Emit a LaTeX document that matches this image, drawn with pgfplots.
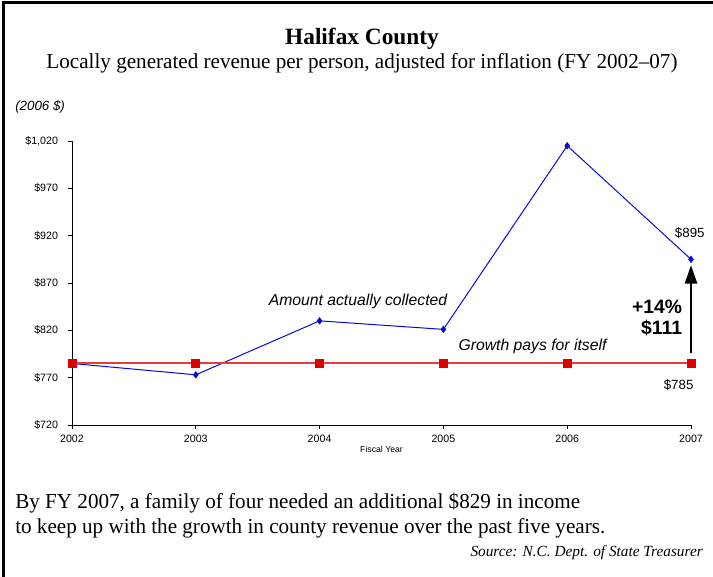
\documentclass[border=0pt]{standalone}
\usepackage{fontspec}
\setmainfont{Liberation Serif}
\setsansfont{Liberation Sans}
\newfontfamily\cond[FakeStretch=0.99,Ligatures=TeX]{Liberation Serif}
\usepackage{pgfplots}
\pgfplotsset{compat=1.18}
\usetikzlibrary{arrows.meta}
\definecolor{bluel}{RGB}{10,10,215}
\definecolor{redl}{RGB}{235,60,60}
\definecolor{redm}{RGB}{220,0,0}
\begin{document}
\begin{tikzpicture}
\useasboundingbox (-54pt,-114pt) rectangle (480.75pt,318.75pt);
\begin{axis}[
  at={(0,0)}, anchor=origin,
  scale only axis,
  width=464.25pt, height=213pt,
  xmin=2002, xmax=2007, ymin=720, ymax=1020,
  axis x line=bottom, axis y line=left,
  axis line style={-, black, line width=0.6pt},
  xtick={2002,2003,2004,2005,2006,2007},
  xticklabels={2002,2003,2004,2005,2006,2007},
  ytick={720,770,820,870,920,970,1020},
  yticklabels={\$720,\$770,\$820,\$870,\$920,\$970,{\$1,020}},
  tick align=outside, major tick length=3pt,
  tick style={black, line width=0.6pt},
  font=\sffamily,
  ticklabel style={font=\sffamily\fontsize{8}{9}\selectfont},
  yticklabel style={xshift=-4pt},
  xticklabel style={yshift=-1pt},
  xlabel={Fiscal Year},
  xlabel style={font=\sffamily\fontsize{6.5}{7}\selectfont, yshift=4pt},
  clip=false,
]
\addplot[draw=bluel, line width=0.75pt, mark=diamond*, mark size=2.2pt,
  mark options={fill=bluel, draw=bluel}]
  coordinates {(2002,785) (2003,773) (2004,830) (2005,821) (2006,1015) (2007,895)};
\addplot[draw=redl, line width=1.5pt, mark=square*, mark size=3pt,
  mark options={fill=redm, draw=redm, line width=0.5pt}]
  coordinates {(2002,785) (2003,785) (2004,785) (2005,785) (2006,785) (2007,785)};
\node[font=\sffamily\itshape\fontsize{11.8}{13}\selectfont] at (axis cs:2004.31,850) {Amount actually collected};
\node[font=\sffamily\itshape\fontsize{11.8}{13}\selectfont] at (axis cs:2005.72,803.4) {Growth pays for itself};
\node[font=\sffamily\fontsize{10}{12}\selectfont] at (axis cs:2006.99,922.8) {\$895};
\node[font=\sffamily\fontsize{10}{12}\selectfont] at (axis cs:2006.9,762) {\$785};
\node[font=\sffamily\bfseries\fontsize{14.5}{16}\selectfont, anchor=east, inner sep=0pt] at (axis cs:2006.93,844.6) {+14\%};
\node[font=\sffamily\bfseries\fontsize{14.5}{16}\selectfont, anchor=east, inner sep=0pt] at (axis cs:2006.93,822.5) {\$111};
\draw[line width=2.2pt, -{Triangle[length=14pt, width=9pt]}] (axis cs:2007,796) -- (axis cs:2007,889);
\end{axis}
% frame
\draw[line width=2.4pt] (-51.6pt,-114pt) -- (-51.6pt,316.8pt) -- (480.75pt,316.8pt);
% titles
\node[font=\bfseries\fontsize{17.5}{19}\selectfont, anchor=base] at (217.5pt,285pt) {Halifax County};
\node[font=\cond\fontsize{16}{18}\selectfont, anchor=base] at (217.5pt,267pt) {Locally generated revenue per person, adjusted for inflation (FY 2002–07)};
\node[font=\sffamily\itshape\fontsize{10}{12}\selectfont, anchor=base west, inner sep=0pt] at (-42.75pt,235.5pt) {(2006 \$)};
% bottom text
\node[font=\cond\fontsize{16}{18}\selectfont, anchor=base west, inner sep=0pt] at (-42.75pt,-62.5pt) {By FY 2007, a family of four needed an additional \$829 in income};
\node[font=\cond\fontsize{16}{18}\selectfont, anchor=base west, inner sep=0pt] at (-42.75pt,-81.5pt) {to keep up with the growth in county revenue over the past five years.};
\node[font=\cond\itshape\fontsize{11.6}{14}\selectfont, anchor=base east, inner sep=0pt] at (473.25pt,-99pt) {Source: N.C. Dept. of State Treasurer};
\end{tikzpicture}
\end{document}
